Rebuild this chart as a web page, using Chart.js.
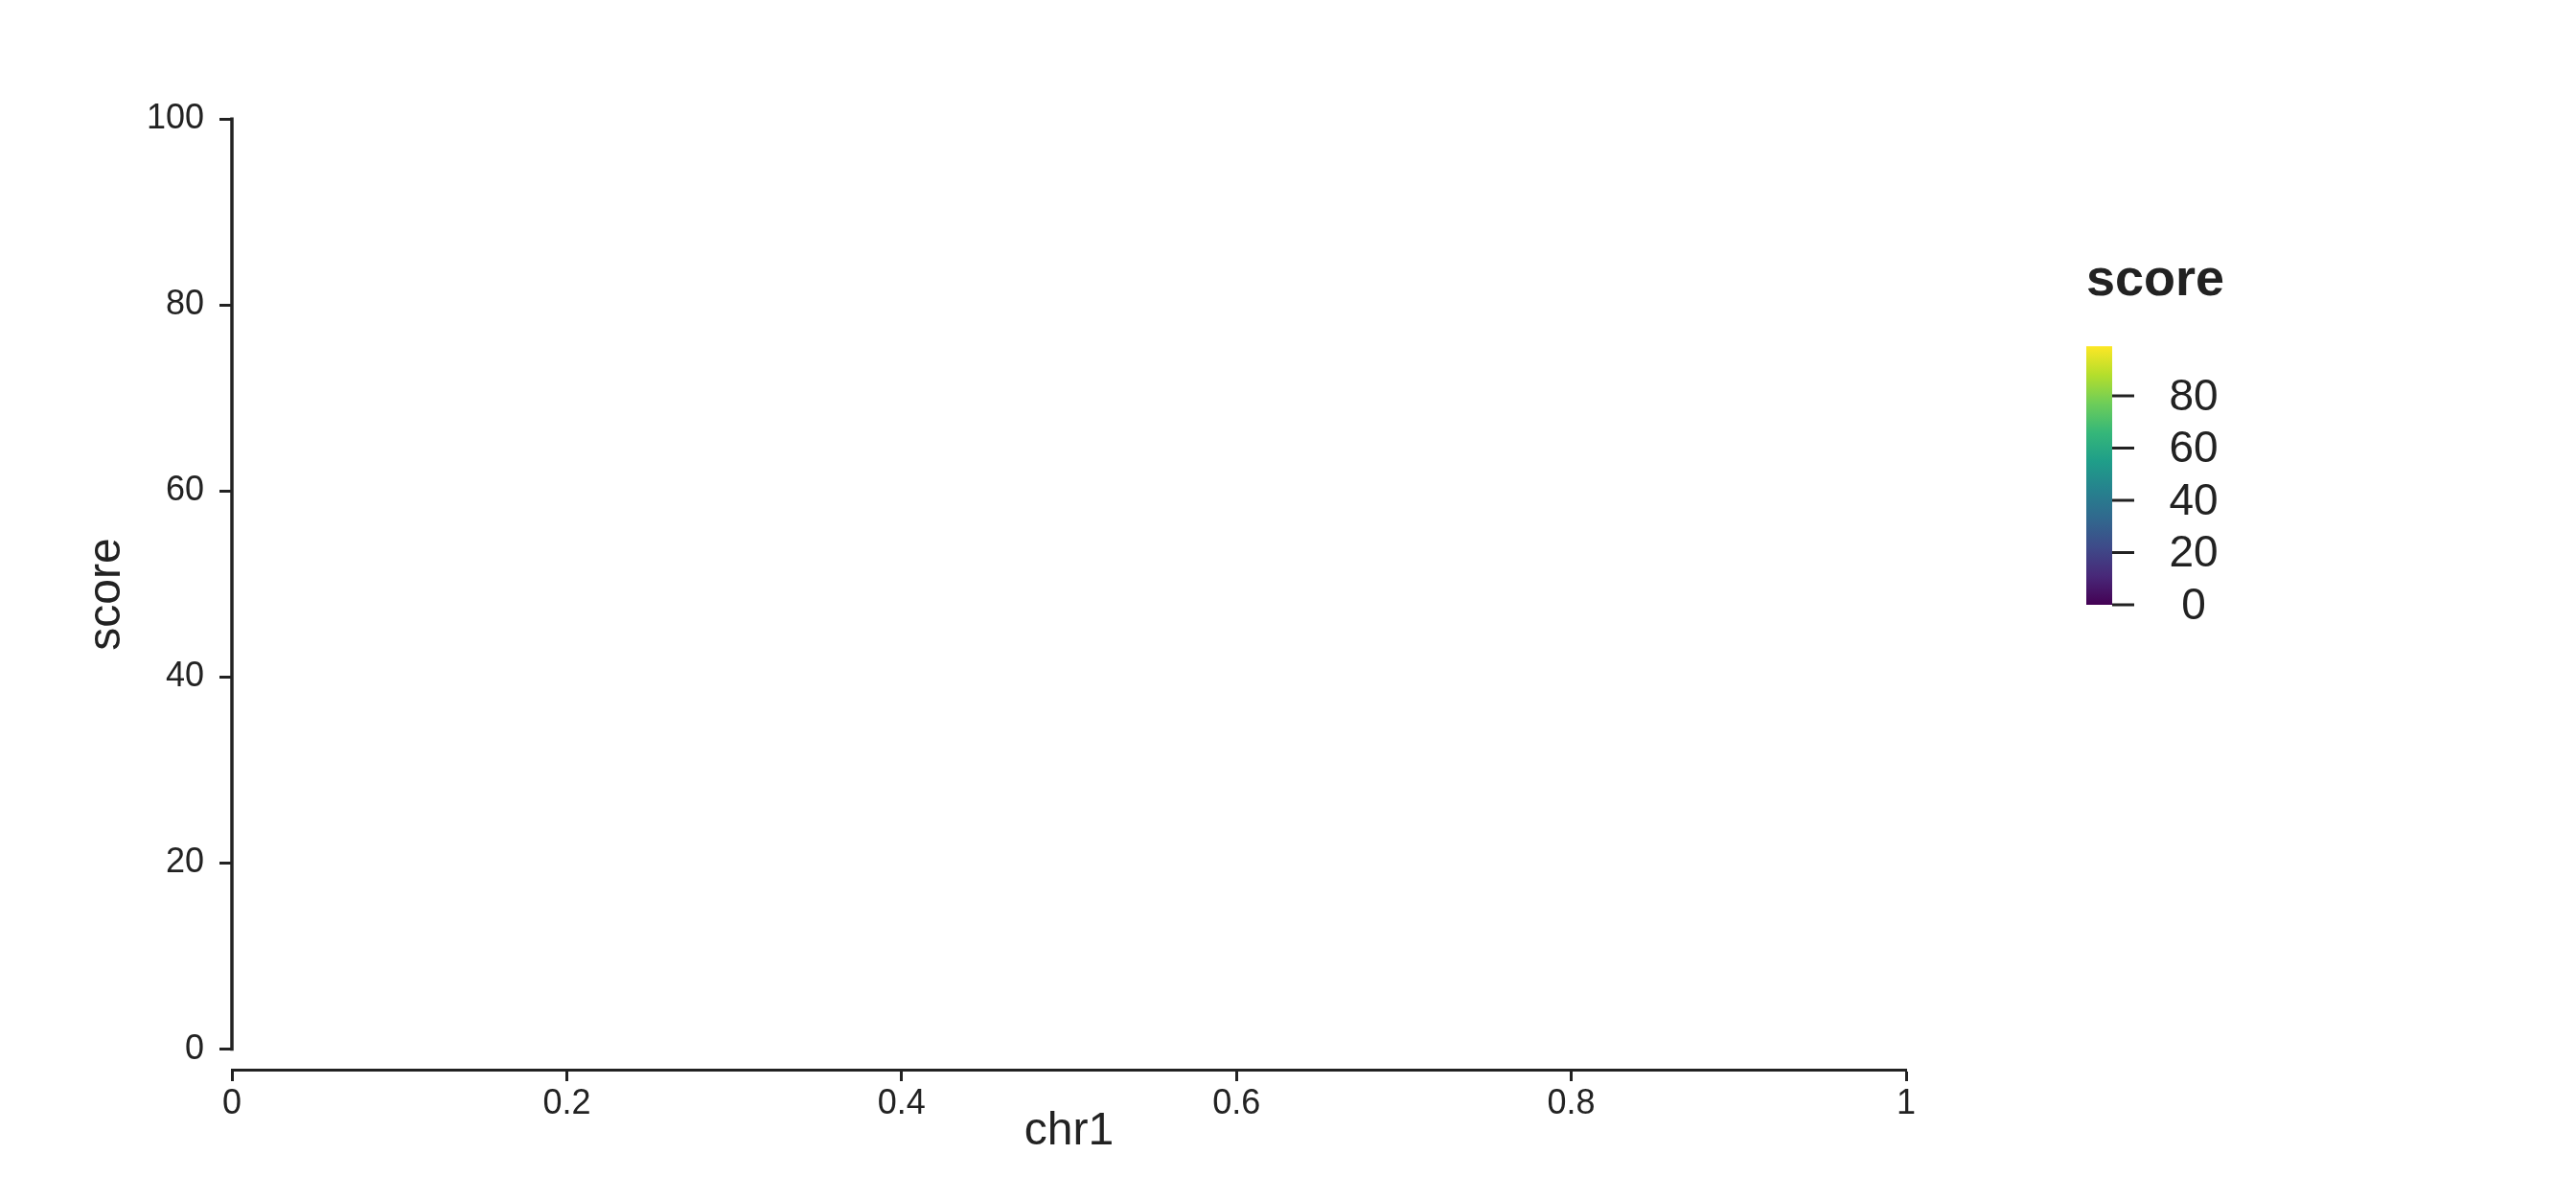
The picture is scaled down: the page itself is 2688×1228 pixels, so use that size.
<!DOCTYPE html>
<html>
<head>
<meta charset="utf-8">
<script src="https://cdn.jsdelivr.net/npm/chart.js@4"></script>
<style>
  html, body { margin: 0; padding: 0; background: #ffffff; }
  canvas { display: block; }
</style>
</head>
<body>
<canvas id="chartScore" width="2688" height="1228"></canvas>
<script>
//* Data (empty track: no points on chr1)
const positions = [];
const scores = [];

//* Axis ticks
const xTicks = [0, 0.2, 0.4, 0.6, 0.8, 1];
const yTicks = [0, 20, 40, 60, 80, 100];

//* Colour bar legend
const legendTitle = "score";
const legendTicks = [0, 20, 40, 60, 80];
const scoreRange = [0, 99];

//* Viridis colour stops
const viridis = [
  "#440154", "#482878", "#3E4A89", "#31688E", "#26828E",
  "#1F9E89", "#35B779", "#6DCD59", "#B4DE2C", "#FDE725",
];

const ink = "#222222";
const fontFam = "'Liberation Sans', Arial, Helvetica, sans-serif";

//* Build the point list from the arrays
const points = positions.map((p, i) => ({ x: p, y: scores[i] }));

//* Plugin: y axis line only over the data range + colour bar legend
const axisAndLegend = {
  id: "axisAndLegend",
  afterDraw(chart) {
    const ctx = chart.ctx;
    const y = chart.scales.y;
    //* y axis line from 0 to 100
    ctx.save();
    ctx.strokeStyle = ink;
    ctx.lineWidth = 3.5;
    ctx.lineCap = "butt";
    ctx.beginPath();
    ctx.moveTo(y.right, y.getPixelForValue(yTicks[0]) + 1.5);
    ctx.lineTo(y.right, y.getPixelForValue(yTicks[yTicks.length - 1]) - 1.5);
    ctx.stroke();

    //* colour bar
    const barL = 2177, barW = 27, barBottom = 631, pxPerUnit = 2.725;
    const barTop = barBottom - (scoreRange[1] - scoreRange[0]) * pxPerUnit;
    const grad = ctx.createLinearGradient(0, barBottom, 0, barTop);
    viridis.forEach((c, i) => grad.addColorStop(i / (viridis.length - 1), c));
    ctx.fillStyle = grad;
    ctx.fillRect(barL, barTop, barW, barBottom - barTop);

    //* legend title
    ctx.fillStyle = ink;
    ctx.font = "bold 54px " + fontFam;
    ctx.textAlign = "left";
    ctx.textBaseline = "alphabetic";
    ctx.fillText(legendTitle, barL, 308);

    //* legend ticks and labels
    ctx.font = "46px " + fontFam;
    ctx.textAlign = "center";
    ctx.textBaseline = "middle";
    ctx.lineWidth = 3;
    legendTicks.forEach((v) => {
      const ty = barBottom - (v - scoreRange[0]) * pxPerUnit;
      ctx.beginPath();
      ctx.moveTo(barL + barW, ty);
      ctx.lineTo(barL + barW + 23, ty);
      ctx.stroke();
      ctx.fillText(String(v), 2289, ty + 2);
    });
    ctx.restore();
  },
};

const ctx = document.getElementById("chartScore").getContext("2d");

const chartScore = new Chart(ctx, {
  type: "scatter",
  data: {
    datasets: [
      {
        label: "score",
        data: points,
        pointRadius: 6,
        backgroundColor: viridis[4],
      },
    ],
  },
  options: {
    responsive: false,
    animation: false,
    devicePixelRatio: 1,
    layout: {
      padding: { left: 0, right: 699, top: 124, bottom: 0 },
    },
    plugins: {
      legend: { display: false },
      tooltip: { enabled: false },
    },
    scales: {
      x: {
        type: "linear",
        min: 0,
        max: 1,
        afterBuildTicks: (scale) => {
          scale.ticks = xTicks.map((v) => ({ value: v }));
        },
        afterFit: (scale) => {
          scale.height = 112;
        },
        border: { display: true, color: ink, width: 3 },
        grid: {
          display: true,
          drawOnChartArea: false,
          drawTicks: true,
          tickLength: 12,
          tickWidth: 3,
          tickColor: ink,
        },
        ticks: {
          color: ink,
          padding: 2,
          maxRotation: 0,
          autoSkip: false,
          font: { size: 36, family: fontFam },
          callback: (v) => String(v),
        },
        title: {
          display: true,
          text: "chr1",
          color: ink,
          font: { size: 48, family: fontFam },
          padding: { top: 0, bottom: 18 },
        },
      },
      y: {
        type: "linear",
        min: -2.2,
        max: 100,
        afterBuildTicks: (scale) => {
          scale.ticks = yTicks.map((v) => ({ value: v }));
        },
        afterFit: (scale) => {
          scale.width = 242;
        },
        border: { display: false },
        grid: {
          display: true,
          drawOnChartArea: false,
          drawTicks: true,
          tickLength: 13,
          tickWidth: 3,
          tickColor: ink,
        },
        ticks: {
          color: ink,
          padding: 16,
          autoSkip: false,
          font: { size: 36, family: fontFam },
          callback: (v) => String(v),
        },
        title: {
          display: true,
          text: "score",
          color: ink,
          font: { size: 48, family: fontFam },
          padding: { top: 83, bottom: 0 },
        },
      },
    },
  },
  plugins: [axisAndLegend],
});
</script>
</body>
</html>
